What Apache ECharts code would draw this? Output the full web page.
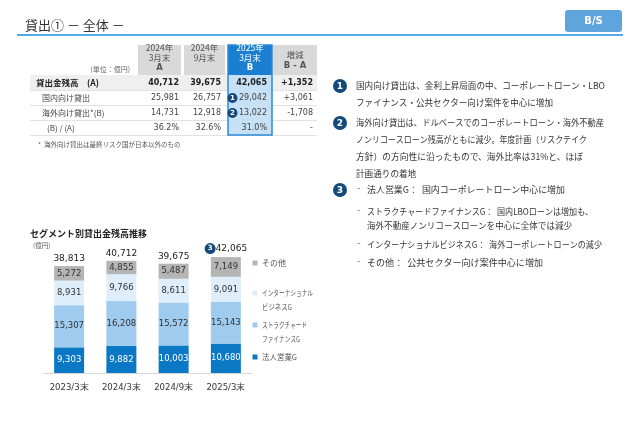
<!DOCTYPE html>
<html>
<head>
<meta charset="utf-8">
<script src="https://cdn.jsdelivr.net/npm/echarts@6/dist/echarts.min.js"></script>
<style>
  html, body { margin: 0; padding: 0; background: #fff; }
  #main { width: 640px; height: 443px; }
</style>
</head>
<body>
<div id="main"></div>
<script>
// セグメント別貸出金残高推移
const categories = ['2023/3末', '2024/3末', '2024/9末', '2025/3末'];
const corporate = [9303, 9882, 10003, 10680];       // 法人営業G
const structured = [15307, 16208, 15572, 15143];    // ストラクチャードファイナンスG
const international = [8931, 9766, 8611, 9091];     // インターナショナルビジネスG
const others = [5272, 4855, 5487, 7149];            // その他
const totals = [38813, 40712, 39675, 42065];

const segNames = ['法人営業G', 'ストラクチャードファイナンスG', 'インターナショナルビジネスG', 'その他'];
const legendLabels = ['その他', 'インターナショナル\nビジネスG', 'ストラクチャード\nファイナンスG', '法人営業G'];
const segColors = ['#0b78c6', '#9ecbee', '#deeefa', '#b5b5b5'];

// 表
const tableHeads = ['2024年\n3月末\nA', '2024年\n9月末', '2025年\n3月末\nB', '増減\nB - A'];
const rowNames = ['貸出金残高　(A)', '国内向け貸出', '海外向け貸出*(B)', '(B) / (A)'];
const colMar24 = ['40,712', '25,981', '14,731', '36.2%'];
const colSep24 = ['39,675', '26,757', '12,918', '32.6%'];
const colMar25 = ['42,065', '29,042', '13,022', '31.0%'];
const colDiff = ['+1,352', '+3,061', '-1,708', '-'];

const JP = '"Noto Sans CJK JP", sans-serif';
const NUM = '"DejaVu Sans", sans-serif';
const NAVY = '#134a7c';

let elements = [];
const measureCtx = document.createElement('canvas').getContext('2d');

function txt(x, y, text, o) {
    o = o || {};
    let el = {
        type: 'text', z: o.z || 10,
        style: {
            x: x, y: y, text: text,
            fill: o.fill || '#333',
            fontSize: o.size || 9,
            fontFamily: o.family || JP,
            fontWeight: o.weight || 'normal',
            textAlign: o.align || 'left',
            textVerticalAlign: 'middle'
        }
    };
    // 元資料のフォントは仮名が詰まっているので、行幅を合わせる
    if (o.endX) {
        measureCtx.font = (o.weight || 'normal') + ' ' + (o.size || 9) + 'px ' + (o.family || JP);
        let w = measureCtx.measureText(text).width;
        let s = Math.max(0.75, Math.min(1.08, (o.endX - x) / w));
        el.scaleX = s;
        el.originX = x;
        el.originY = y;
    }
    return el;
}
function rect(x, y, w, h, fill, o) {
    o = o || {};
    return {
        type: 'rect', z: o.z || 5,
        shape: { x: x, y: y, width: w, height: h, r: o.r || 0 },
        style: { fill: fill, stroke: o.stroke || null, lineWidth: o.lw || 0 }
    };
}
function badge(cx, cy, r, n, size) {
    elements.push({ type: 'circle', z: 11, shape: { cx: cx, cy: cy, r: r }, style: { fill: NAVY } });
    elements.push(txt(cx, cy + 0.5, String(n), { fill: '#fff', size: size, weight: 'bold', align: 'center', family: NUM, z: 12 }));
}

// ヘッダー
elements.push(txt(25, 25, '貸出① － 全体 －', { size: 13, fill: '#333' }));
elements.push({ type: 'line', z: 5, shape: { x1: 17, y1: 35, x2: 623, y2: 35 }, style: { stroke: '#1b8fe0', lineWidth: 1.5 } });
elements.push(rect(565, 10, 57, 22, '#5ea5dd', { r: 3 }));
elements.push(txt(593.5, 21, 'B/S', { fill: '#fff', size: 10, weight: 'bold', align: 'center', family: NUM }));

// 表
const cols = [{ x: 138, w: 43 }, { x: 184, w: 41 }, { x: 228, w: 44 }, { x: 273, w: 44 }];
const rowY = [83, 98, 113, 128];
elements.push(rect(30, 75, 287, 15, '#efefef'));
[90.5, 105.5, 120.5, 135.5].forEach(y => {
    elements.push({ type: 'line', z: 6, shape: { x1: 30, y1: y, x2: 317, y2: y }, style: { stroke: '#e2e2e2', lineWidth: 1 } });
});
cols.forEach((c, i) => {
    const isB = i === 2;
    elements.push(rect(c.x, 45, c.w, 30, isB ? '#1a7fd0' : '#d9d9d9'));
    const lines = tableHeads[i].split('\n');
    const start = i === 3 ? 55 : 48;
    const step = i === 3 ? 11 : 10;
    lines.forEach((l, j) => {
        const bold = (j === 2) || (i === 3 && j === 1);
        elements.push(txt(c.x + c.w / 2, start + j * step, l, {
            fill: isB ? '#fff' : '#555', size: 8.5, align: 'center',
            weight: bold ? 'bold' : 'normal', family: bold ? NUM : JP
        }));
    });
});
elements.push(rect(228, 75, 44, 60, '#c6e0f5', { z: 6 }));
elements.push(rect(228, 45, 44, 90, 'none', { z: 9, stroke: '#2b8ad9', lw: 1.5 }));
elements.push(txt(130, 69, '(単位：億円)', { size: 7, fill: '#666', align: 'right' }));

const colData = [colMar24, colSep24, colMar25, colDiff];
const rightEdge = [179, 221, 267, 313];
rowNames.forEach((name, r) => {
    const bold = r === 0;
    const lx = r === 0 ? 36 : (r === 3 ? 47 : 42);
    elements.push(txt(lx, rowY[r], name, { size: bold ? 8.5 : 8, weight: bold ? 'bold' : 'normal', fill: bold ? '#222' : '#444' }));
    colData.forEach((col, c) => {
        elements.push(txt(rightEdge[c], rowY[r], col[r], {
            size: 8, family: NUM, align: 'right',
            weight: bold ? 'bold' : 'normal', fill: bold ? '#222' : '#444'
        }));
    });
});
badge(232.5, rowY[1], 5, 1, 7);
badge(232.5, rowY[2], 5, 2, 7);
elements.push(txt(38, 145, '*  海外向け貸出は最終リスク国が日本以外のもの', { size: 6.5, fill: '#555' }));

// グラフタイトル
elements.push(txt(30, 234, 'セグメント別貸出金残高推移', { size: 9, weight: 'bold', fill: '#222' }));
elements.push(txt(33, 246, '(億円)', { size: 6.5, fill: '#555' }));

// 凡例
const legendY = [263, 293, 325, 357];
const legendEnds = [[286], [313, 292], [307, 300], [297]];
legendLabels.forEach((l, i) => {
    const color = segColors[3 - i];
    elements.push(rect(252.5, legendY[i] - 2.5, 5, 5, color));
    l.split('\n').forEach((line, j) => {
        elements.push(txt(262, legendY[i] + j * 14, line, { size: 7.5, fill: '#555', endX: legendEnds[i][j] }));
    });
});

// 右側のコメント
const notes = [
    { n: 1, y: 86, lines: ['国内向け貸出は、金利上昇局面の中、コーポレートローン・LBO', 'ファイナンス・公共セクター向け案件を中心に増加'], ends: [605, 553] },
    { n: 2, y: 123, lines: ['海外向け貸出は、ドルベースでのコーポレートローン・海外不動産', 'ノンリコースローン残高がともに減少。年度計画（リスクテイク', '方針）の方向性に沿ったもので、海外比率は31%と、ほぼ', '計画通りの着地'], ends: [604, 587, 583, 0] }
];
notes.forEach(nt => {
    badge(340, nt.y, 7, nt.n, 9);
    nt.lines.forEach((l, j) => {
        elements.push(txt(356, nt.y + j * 16.8, l, { size: 8.6, fill: '#333', endX: nt.ends[j] }));
    });
});
badge(340, 190, 7, 3, 9);
const bullets = [
    { y: 190, lines: ['法人営業G：  国内コーポレートローン中心に増加'], ends: [565] },
    { y: 212, lines: ['ストラクチャードファイナンスG：  国内LBOローンは増加も、', '海外不動産ノンリコースローンを中心に全体では減少'], ends: [593, 572] },
    { y: 245, lines: ['インターナショナルビジネスG：  海外コーポレートローンの減少'], ends: [602] },
    { y: 263, lines: ['その他：  公共セクター向け案件中心に増加'], ends: [543] }
];
bullets.forEach(b => {
    elements.push(txt(357, b.y - 1, '-', { size: 9, fill: '#1b8fe0', family: NUM }));
    b.lines.forEach((l, j) => {
        elements.push(txt(367, b.y + j * 14, l, { size: 8.6, fill: '#333', endX: b.ends[j] }));
    });
});

const segData = [corporate, structured, international, others];
const labelColors = ['#fff', '#333', '#333', '#333'];

let series = segData.map((d, i) => ({
    name: segNames[i],
    type: 'bar',
    stack: 'total',
    barWidth: 30,
    data: d,
    itemStyle: { color: segColors[i] },
    label: {
        show: true,
        position: 'inside',
        color: labelColors[i],
        fontSize: 8.5,
        fontFamily: NUM,
        formatter: p => p.value.toLocaleString('en-US')
    },
    silent: true
}));
series.push({
    name: '合計',
    type: 'bar',
    barWidth: 30,
    barGap: '-100%',
    z: 1,
    data: totals,
    itemStyle: { color: 'rgba(0,0,0,0)' },
    label: {
        show: true,
        position: 'top',
        distance: 3,
        color: '#222',
        fontSize: 9,
        fontFamily: NUM,
        formatter: p => (p.dataIndex === 3 ? '{n|3}' : '') + p.value.toLocaleString('en-US'),
        rich: {
            n: {
                backgroundColor: NAVY, color: '#fff', borderRadius: 5.5,
                width: 11, height: 11, align: 'center', lineHeight: 11,
                fontSize: 7, fontWeight: 'bold', fontFamily: NUM
            }
        }
    },
    silent: true
});

const chart = echarts.init(document.getElementById('main'));
chart.setOption({
    animation: false,
    grid: { left: 43, width: 209, top: 249, height: 124 },
    xAxis: {
        type: 'category',
        data: categories,
        axisLine: { lineStyle: { color: '#d9d9d9', width: 1 } },
        axisTick: { show: false },
        axisLabel: { color: '#333', fontSize: 8.5, fontFamily: NUM, margin: 10 }
    },
    yAxis: { type: 'value', min: 0, max: 45000, show: false, splitLine: { show: false } },
    series: series,
    graphic: { elements: elements }
});
</script>
</body>
</html>
